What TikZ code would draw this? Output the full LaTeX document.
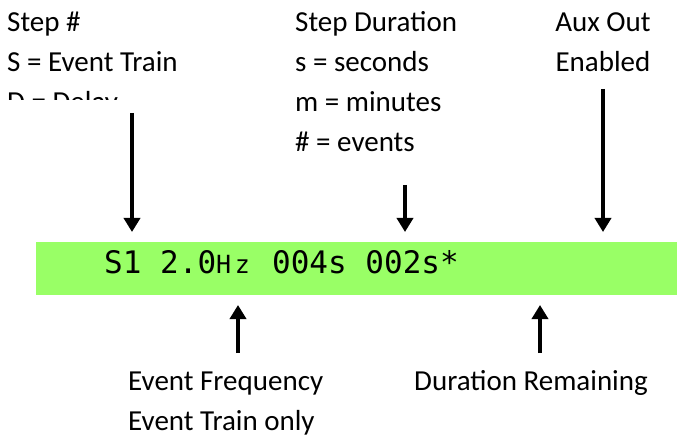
\documentclass[tikz,border=0pt]{standalone}
\usepackage{fontspec}
\setmainfont{Carlito}
\newfontfamily\lcd{DejaVu Sans Mono}
\usetikzlibrary{arrows.meta}
\definecolor{lcdgreen}{RGB}{153,255,102}
\tikzset{
  lbl/.style={anchor=base west,inner sep=0pt,font=\fontsize{29}{29}\selectfont},
  clbl/.style={anchor=base,inner sep=0pt,font=\fontsize{29}{29}\selectfont},
  pointer/.style={line width=4.6pt,-{Triangle[width=16pt,length=14pt]}},
  lcdbar/.style={fill=lcdgreen,draw=none,inner sep=0pt,anchor=north west,minimum width=641pt,minimum height=53pt}
}
\newcommand{\smallch}[1]{\makebox[18.66pt][l]{\fontsize{25}{25}\selectfont #1}}
\begin{document}
\begin{tikzpicture}[x=1pt,y=-1pt]
\useasboundingbox (0,0) rectangle (677,438);
% display bar
\node[lcdbar] (bar) at (36,242) {};
\node[anchor=base west,inner sep=0pt,font=\lcd\fontsize{31}{31}\selectfont] (disp) at (104,273) {S1 2.0\smallch{H}\smallch{z} 004s 002s*};
% top-left labels
\node[lbl] (step) at (7,32) {Step \#};
\node[lbl] (evtrain) at (7,72) {S = Event Train};
\begin{scope}
\clip (0,80) rectangle (300,100);
\node[lbl] (delay) at (7,112) {D = Delay};
\end{scope}
% step duration labels
\node[lbl] (dur) at (295,32) {Step Duration};
\node[lbl] (sec) at (295,72) {s = seconds};
\node[lbl] (min) at (295,112) {m = minutes};
\node[lbl] (evts) at (295,152) {\# = events};
% aux out
\node[clbl] (aux) at (603,32) {Aux Out};
\node[clbl] (enab) at (603,72) {Enabled};
% bottom labels
\node[lbl] (freq) at (128,390) {Event Frequency};
\node[lbl] (only) at (128,430) {Event Train only};
\node[lbl] (remain) at (414,390) {Duration Remaining};
% arrow end points
\coordinate (a1s) at (132,113); \coordinate (a1e) at (132,232);
\coordinate (a2s) at (405,185); \coordinate (a2e) at (405,232);
\coordinate (a3s) at (603,89);  \coordinate (a3e) at (603,232);
\coordinate (a4s) at (238,353); \coordinate (a4e) at (238,305);
\coordinate (a5s) at (540,353); \coordinate (a5e) at (540,305);
\draw[pointer] (a1s) -- (a1e);
\draw[pointer] (a2s) -- (a2e);
\draw[pointer] (a3s) -- (a3e);
\draw[pointer] (a4s) -- (a4e);
\draw[pointer] (a5s) -- (a5e);
\end{tikzpicture}
\end{document}
